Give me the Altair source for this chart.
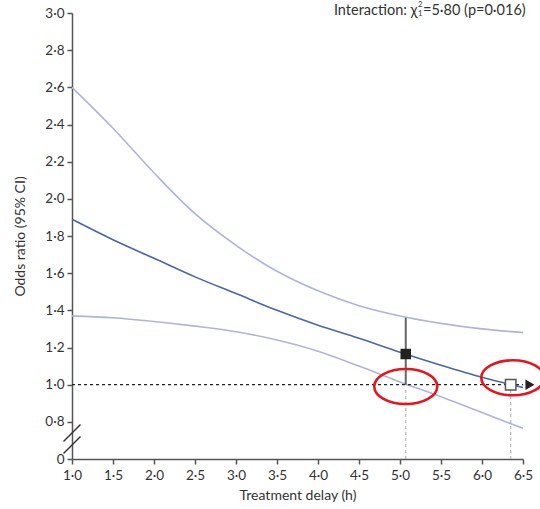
import altair as alt
import pandas as pd

# ---- data ----
t_grid = [1.0, 1.5, 2.0, 2.5, 3.0, 3.5, 4.0, 4.5, 5.0, 5.5, 6.0, 6.5]
or_est = [1.89, 1.78, 1.68, 1.58, 1.49, 1.40, 1.32, 1.25, 1.175, 1.105, 1.04, 0.985]
or_upper = [2.60, 2.38, 2.14, 1.92, 1.75, 1.61, 1.505, 1.425, 1.37, 1.33, 1.30, 1.28]
or_lower = [1.37, 1.36, 1.34, 1.315, 1.285, 1.24, 1.18, 1.10, 1.015, 0.935, 0.85, 0.765]

marker_t = [5.07, 6.35]
marker_or = [1.165, 1.0]
marker_kind = ["filled", "open"]
errbar_low = [1.0]
errbar_high = [1.36]
highlight_t = [5.07, 6.375]
highlight_or = [0.99, 1.037]
arrow_t = [6.585]
arrow_or = [1.0]
break_or = [0.7395, 0.675]

x_ticks = [1.0, 1.5, 2.0, 2.5, 3.0, 3.5, 4.0, 4.5, 5.0, 5.5, 6.0, 6.5]
y_ticks = [0.6, 0.8, 1.0, 1.2, 1.4, 1.6, 1.8, 2.0, 2.2, 2.4, 2.6, 2.8, 3.0]

FONT = "Lato"
TXT = "#333333"

rows = []
for t, e, u, l in zip(t_grid, or_est, or_upper, or_lower):
    rows.append({"t": t, "v": e, "s": "est"})
    rows.append({"t": t, "v": u, "s": "upper"})
    rows.append({"t": t, "v": l, "s": "lower"})
curves = pd.DataFrame(rows)

xs = alt.Scale(domain=[1.0, 6.5], nice=False, zero=False)
ys = alt.Scale(domain=[0.6, 3.0], nice=False, zero=False)

x_axis = alt.Axis(
    values=x_ticks,
    labelExpr="replace(format(datum.value, '.1f'), '.', '·')",
    title="Treatment delay (h)",
    grid=False,
    labelFlush=False,
)
y_axis = alt.Axis(
    values=y_ticks,
    labelExpr="datum.value < 0.7 ? '0' : replace(format(datum.value, '.1f'), '.', '·')",
    title="Odds ratio (95% CI)",
    grid=False,
    labelFlush=False,
)


def X(field):
    return alt.X(field, type="quantitative", scale=xs, axis=x_axis)


def Y(field):
    return alt.Y(field, type="quantitative", scale=ys, axis=y_axis)


ci = alt.Chart(curves).transform_filter("datum.s != 'est'").mark_line(
    color="#aeb4dc", strokeWidth=1.6, interpolate="monotone"
).encode(x=X("t"), y=Y("v"), detail="s:N")

est = alt.Chart(curves).transform_filter("datum.s == 'est'").mark_line(
    color="#4a66aa", strokeWidth=1.6, interpolate="monotone"
).encode(x=X("t"), y=Y("v"))

ref_df = pd.DataFrame({"x1": [t_grid[0]], "x2": [t_grid[-1]], "y": [1.0]})
ref = alt.Chart(ref_df).mark_rule(color="#222222", strokeWidth=1.2, strokeDash=[3, 3]).encode(
    x=X("x1"), x2="x2", y=Y("y")
)

mk = pd.DataFrame({"t": marker_t, "v": marker_or, "k": marker_kind})
vdash_df = pd.DataFrame({"t": marker_t, "y1": [0.6, 0.6], "y2": [0.985, 0.985]})
vdash = alt.Chart(vdash_df).mark_rule(color="#b0b0b0", strokeWidth=1.1, strokeDash=[3, 3]).encode(
    x=X("t"), y=Y("y1"), y2="y2"
)

eb_df = pd.DataFrame({"t": [marker_t[0]], "lo": errbar_low, "hi": errbar_high})
eb = alt.Chart(eb_df).mark_rule(color="#666666", strokeWidth=2).encode(
    x=X("t"), y=Y("lo"), y2="hi"
)

filled = alt.Chart(mk).transform_filter("datum.k == 'filled'").mark_point(
    shape="square", filled=True, color="#222222", size=110, opacity=1
).encode(x=X("t"), y=Y("v"))
opensq = alt.Chart(mk).transform_filter("datum.k == 'open'").mark_point(
    shape="square", filled=True, fill="white", stroke="#555555", strokeWidth=1.5, size=110, opacity=1
).encode(x=X("t"), y=Y("v"))

arrow = alt.Chart(pd.DataFrame({"t": arrow_t, "v": arrow_or})).mark_point(
    shape="triangle-right", filled=True, color="#222222", size=110, opacity=1
).encode(x=X("t"), y=Y("v"))

ellipse_path = ("M -1 0 C -1 -0.307 -0.552 -0.556 0 -0.556 C 0.552 -0.556 1 -0.307 1 0 "
                "C 1 0.307 0.552 0.556 0 0.556 C -0.552 0.556 -1 0.307 -1 0 Z")
ell = alt.Chart(pd.DataFrame({"t": highlight_t, "v": highlight_or})).mark_point(
    shape=ellipse_path, filled=False, stroke="#e8141c", strokeWidth=2.6, size=3969, opacity=1
).encode(x=X("t"), y=Y("v"))

brk = alt.Chart(pd.DataFrame({"t": [1.0, 1.0], "v": break_or})).mark_point(
    shape="M -1 1 L 1 -1", filled=False, stroke="#333333", strokeWidth=1.5, size=289, opacity=1
).encode(x=X("t"), y=Y("v"))

one = pd.DataFrame({"a": [0]})
txt_main = alt.Chart(one).mark_text(
    text="Interaction: χ", align="right", baseline="alphabetic", font=FONT, fontSize=14.5, color=TXT
).encode(x=alt.value(345.5), y=alt.value(2.0))
txt_sup = alt.Chart(one).mark_text(
    text="2", align="left", baseline="alphabetic", font=FONT, fontSize=7.5, color=TXT
).encode(x=alt.value(346.0), y=alt.value(-5.6))
txt_sub = alt.Chart(one).mark_text(
    text="1", align="left", baseline="alphabetic", font=FONT, fontSize=7.5, color=TXT
).encode(x=alt.value(346.0), y=alt.value(2.6))
txt_rest = alt.Chart(one).mark_text(
    text="=5·80 (p=0·016)", align="left", baseline="alphabetic", font=FONT, fontSize=14.5, color=TXT
).encode(x=alt.value(351.0), y=alt.value(2.0))

chart = alt.layer(
    ci, est, ref, vdash, eb, filled, opensq, arrow, ell, brk,
    txt_main, txt_sup, txt_sub, txt_rest,
).properties(
    width=451, height=446,
    autosize=alt.AutoSizeParams(type="none"),
    padding={"left": 72, "top": 13, "right": 17, "bottom": 50},
).configure_view(stroke=None).configure_axis(
    domainColor="#555555", domainWidth=1.5, tickColor="#555555", tickWidth=1.5, tickSize=5,
    labelColor=TXT, labelFont=FONT, labelFontSize=13.5, labelPadding=3,
    titleColor=TXT, titleFont=FONT, titleFontSize=14, titleFontWeight="normal",
).configure_axisY(titlePadding=17).configure_axisX(titlePadding=7, labelPadding=4)

chart.save("out.html", embed_options={"renderer": "svg", "actions": False})
